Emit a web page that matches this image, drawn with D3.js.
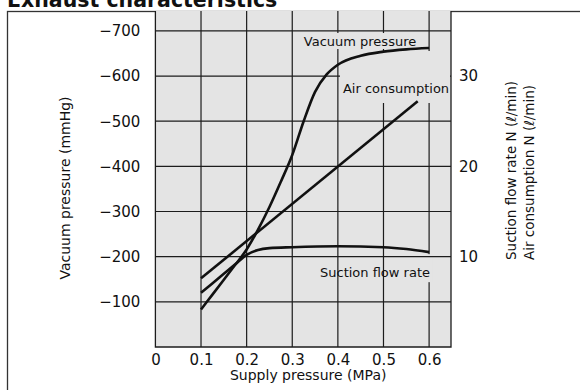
<!DOCTYPE html>
<html lang="en">
<head>
<meta charset="UTF-8">
<script src="https://d3js.org/d3.v7.min.js"></script>
<style>
  html, body { margin: 0; padding: 0; background: #fff; }
  svg { display: block; font-family: "DejaVu Sans", sans-serif; }
  .tick text { fill: #111; font-size: 15px; }
</style>
</head>
<body>
<div id="chart_area"></div>
<script>
  // ---- data ----
  var xTicks = [0, 0.1, 0.2, 0.3, 0.4, 0.5, 0.6];
  var vacuumTicks = [-100, -200, -300, -400, -500, -600, -700];
  var flowTicks = [10, 20, 30];

  // vacuum pressure (mmHg, left axis)
  var vacuumX = [0.1, 0.125, 0.15, 0.175, 0.2, 0.225, 0.25, 0.275, 0.3, 0.325, 0.35, 0.375, 0.4, 0.45, 0.5, 0.55, 0.6];
  var vacuum  = [-83, -116, -149, -182, -216, -260, -310, -366, -425, -500, -565, -603, -625, -645, -654, -659, -662];

  // air consumption (l/min, right axis)
  var airX = [0.1, 0.575];
  var air  = [7.6, 27.2];

  // suction flow rate (l/min, right axis)
  var suctionX = [0.1, 0.15, 0.175, 0.2, 0.225, 0.25, 0.3, 0.4, 0.5, 0.55, 0.6];
  var suction  = [6.0, 8.1, 9.15, 10.2, 10.75, 10.95, 11.05, 11.15, 11.05, 10.85, 10.5];

  var W = 580, H = 390;
  var plot = { left: 155.4, right: 451, top: 11, bottom: 347 };

  var svg = d3.select("#chart_area").append("svg")
    .attr("width", W).attr("height", H);

  var x = d3.scaleLinear().domain([0, 0.648]).range([plot.left, plot.right]);
  var yL = d3.scaleLinear().domain([0, -744]).range([plot.bottom, plot.top]);
  var yR = d3.scaleLinear().domain([0, 37.2]).range([plot.bottom, plot.top]);

  // title (cut by the top edge, as in the original)
  svg.append("text")
    .attr("x", 7).attr("y", 7)
    .style("font-size", "20.5px").style("font-weight", "bold")
    .attr("fill", "#111")
    .text("Exhaust characteristics");

  // outer frame
  svg.append("rect")
    .attr("x", 7.5).attr("y", 11.5)
    .attr("width", W + 10).attr("height", H + 10)
    .attr("fill", "none").attr("stroke", "#333").attr("stroke-width", 1.3);

  // plot background
  svg.append("rect")
    .attr("x", plot.left).attr("y", plot.top)
    .attr("width", plot.right - plot.left).attr("height", plot.bottom - plot.top)
    .attr("fill", "#e4e4e4");

  var gridColor = "#1c1c1c";

  // vertical grid
  svg.append("g").selectAll("line")
    .data(xTicks.filter(function(d) { return d > 0; }))
    .enter().append("line")
      .attr("x1", function(d) { return x(d); }).attr("x2", function(d) { return x(d); })
      .attr("y1", plot.top).attr("y2", plot.bottom)
      .attr("stroke", gridColor).attr("stroke-width", 1.2);

  // gap in the 0.6 line near the suction curve end
  svg.append("rect")
    .attr("x", x(0.6) - 3).attr("y", yR(suction[suction.length - 1]) + 2)
    .attr("width", 6).attr("height", 28)
    .attr("fill", "#e4e4e4");

  // horizontal grid
  svg.append("g").selectAll("line")
    .data(vacuumTicks)
    .enter().append("line")
      .attr("x1", plot.left).attr("x2", plot.right)
      .attr("y1", function(d) { return yL(d); }).attr("y2", function(d) { return yL(d); })
      .attr("stroke", gridColor).attr("stroke-width", 1.2);

  // plot edges
  svg.append("path")
    .attr("d", "M" + plot.left + "," + plot.top + "V" + plot.bottom + "H" + plot.right + "V" + plot.top)
    .attr("fill", "none").attr("stroke", gridColor).attr("stroke-width", 1.3);

  // label boxes that hide grid lines
  svg.append("rect").attr("x", 300).attr("y", 33).attr("width", 122).attr("height", 16).attr("fill", "#e4e4e4");
  svg.append("rect").attr("x", 340).attr("y", 51).attr("width", plot.right - 341).attr("height", 52).attr("fill", "#e4e4e4");

  // axes
  var axX = svg.append("g")
    .attr("transform", "translate(0," + plot.bottom + ")")
    .call(d3.axisBottom(x).tickValues(xTicks).tickSize(0).tickPadding(7)
      .tickFormat(function(d) { return d === 0 ? "0" : d.toFixed(1); }));
  var axL = svg.append("g")
    .attr("transform", "translate(" + plot.left + ",0)")
    .call(d3.axisLeft(yL).tickValues(vacuumTicks).tickSize(0).tickPadding(15));
  var axR = svg.append("g")
    .attr("transform", "translate(" + plot.right + ",0)")
    .call(d3.axisRight(yR).tickValues(flowTicks).tickSize(0).tickPadding(8));
  [axX, axL, axR].forEach(function(a) {
    a.select(".domain").remove();
    a.attr("font-family", null).attr("font-size", null);
  });

  // curves
  function drawCurve(xs, ys, yScale, curve) {
    var pts = xs.map(function(d, i) { return [d, ys[i]]; });
    svg.append("path")
      .datum(pts)
      .attr("fill", "none").attr("stroke", "#111")
      .attr("stroke-width", 2.6).attr("stroke-linecap", "butt")
      .attr("d", d3.line()
        .x(function(d) { return x(d[0]); })
        .y(function(d) { return yScale(d[1]); })
        .curve(curve));
  }
  drawCurve(vacuumX, vacuum, yL, d3.curveMonotoneX);
  drawCurve(airX, air, yR, d3.curveLinear);
  drawCurve(suctionX, suction, yR, d3.curveMonotoneX);

  // curve labels
  var labels = [
    { t: "Vacuum pressure", x: 360, y: 46 },
    { t: "Air consumption", x: 396, y: 93 },
    { t: "Suction flow rate", x: 375, y: 277 }
  ];
  svg.append("g").selectAll("text").data(labels).enter().append("text")
    .attr("x", function(d) { return d.x; }).attr("y", function(d) { return d.y; })
    .attr("text-anchor", "middle")
    .style("font-size", "13px").attr("fill", "#111")
    .text(function(d) { return d.t; });

  // axis titles
  svg.append("text")
    .attr("x", (plot.left + plot.right) / 2 + 5).attr("y", 380)
    .attr("text-anchor", "middle").style("font-size", "14px").attr("fill", "#111")
    .text("Supply pressure (MPa)");

  svg.append("text")
    .attr("transform", "translate(70,188) rotate(-90)")
    .attr("text-anchor", "middle").style("font-size", "14px").attr("fill", "#111")
    .text("Vacuum pressure (mmHg)");

  svg.append("text")
    .attr("transform", "translate(516,260) rotate(-90)")
    .attr("text-anchor", "start").style("font-size", "13.5px").attr("fill", "#111")
    .text("Suction flow rate N (\u2113/min)");
  svg.append("text")
    .attr("transform", "translate(534,260) rotate(-90)")
    .attr("text-anchor", "start").style("font-size", "13.5px").attr("fill", "#111")
    .text("Air consumption N (\u2113/min)");
</script>
</body>
</html>
